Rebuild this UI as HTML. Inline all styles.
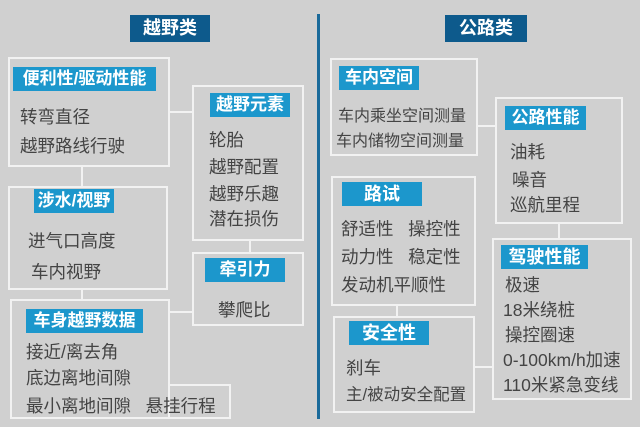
<!DOCTYPE html><html><head><meta charset="utf-8"><style>
body{margin:0;width:640px;height:427px;background:#d0d0d0;position:relative;overflow:hidden;font-family:"Liberation Sans","Noto Sans CJK SC",sans-serif;}
.b{position:absolute;border:2px solid #f2f2f2;box-sizing:border-box;}
.l{position:absolute;background:#1c97cc;color:#fff;font-weight:bold;font-size:17px;text-align:center;line-height:24px;}
.t{position:absolute;background:#0d5a8c;color:#fff;font-weight:bold;font-size:18px;text-align:center;line-height:27px;}
.x{position:absolute;color:#444;font-size:17.5px;line-height:20px;white-space:nowrap;}
.h{position:absolute;height:2px;background:#f2f2f2;}
.v{position:absolute;width:2px;background:#f2f2f2;}
</style></head><body>
<div style="position:absolute;left:317px;top:14px;width:3px;height:405px;background:#1a6a9a"></div>
<div class="t" style="left:130px;top:15px;width:80px;">越野类</div>
<div class="t" style="left:445px;top:15px;width:82px;">公路类</div>

<div class="b" style="left:8px;top:57px;width:162px;height:110px"></div>
<div class="l" style="left:13px;top:67px;width:143px;">便利性/驱动性能</div>
<div class="x" style="left:20px;top:107px">转弯直径</div>
<div class="x" style="left:20px;top:136px">越野路线行驶</div>

<div class="b" style="left:192px;top:85px;width:112px;height:156px"></div>
<div class="l" style="left:210px;top:93px;width:80px;">越野元素</div>
<div class="x" style="left:209px;top:130px">轮胎</div>
<div class="x" style="left:209px;top:157px">越野配置</div>
<div class="x" style="left:209px;top:184px">越野乐趣</div>
<div class="x" style="left:209px;top:209px">潜在损伤</div>
<div class="h" style="left:170px;top:111px;width:22px"></div>

<div class="b" style="left:8px;top:186px;width:160px;height:104px"></div>
<div class="l" style="left:34px;top:189px;width:80px;">涉水/视野</div>
<div class="x" style="left:28px;top:231px">进气口高度</div>
<div class="x" style="left:31px;top:262px">车内视野</div>
<div class="v" style="left:81px;top:167px;height:19px"></div>

<div class="b" style="left:10px;top:299px;width:160px;height:120px;border-bottom:none"></div>
<div class="b" style="left:10px;top:384px;width:221px;height:35px;border-top:none"></div>
<div class="b" style="left:168px;top:384px;width:63px;height:35px;border-left:none;border-bottom:none"></div>
<div class="l" style="left:26px;top:309px;width:117px;">车身越野数据</div>
<div class="x" style="left:26px;top:342px">接近/离去角</div>
<div class="x" style="left:26px;top:368px">底边离地间隙</div>
<div class="x" style="left:26px;top:396px">最小离地间隙&nbsp;&nbsp;&nbsp;悬挂行程</div>
<div class="v" style="left:81px;top:290px;height:9px"></div>

<div class="b" style="left:192px;top:252px;width:112px;height:74px"></div>
<div class="l" style="left:205px;top:258px;width:80px;">牵引力</div>
<div class="x" style="left:218px;top:300px">攀爬比</div>
<div class="v" style="left:249px;top:241px;height:11px"></div>
<div class="h" style="left:170px;top:311px;width:22px"></div>

<div class="b" style="left:330px;top:58px;width:148px;height:98px"></div>
<div class="l" style="left:339px;top:66px;width:80px;">车内空间</div>
<div class="x" style="left:338px;top:107px;font-size:16px">车内乘坐空间测量</div>
<div class="x" style="left:336px;top:132px;font-size:16px">车内储物空间测量</div>

<div class="b" style="left:495px;top:97px;width:128px;height:127px"></div>
<div class="l" style="left:505px;top:106px;width:81px;">公路性能</div>
<div class="x" style="left:510px;top:142px">油耗</div>
<div class="x" style="left:512px;top:170px">噪音</div>
<div class="x" style="left:510px;top:195px">巡航里程</div>
<div class="h" style="left:478px;top:125px;width:17px"></div>

<div class="b" style="left:331px;top:176px;width:145px;height:130px"></div>
<div class="l" style="left:342px;top:182px;width:80px;font-size:18px">路试</div>
<div class="x" style="left:341px;top:219px">舒适性&nbsp;&nbsp;&nbsp;操控性</div>
<div class="x" style="left:341px;top:247px">动力性&nbsp;&nbsp;&nbsp;稳定性</div>
<div class="x" style="left:341px;top:275px">发动机平顺性</div>

<div class="b" style="left:333px;top:316px;width:142px;height:97px"></div>
<div class="l" style="left:349px;top:321px;width:80px;font-size:18px">安全性</div>
<div class="x" style="left:346px;top:358px">刹车</div>
<div class="x" style="left:346px;top:385px;font-size:16.5px">主/被动安全配置</div>
<div class="v" style="left:396px;top:306px;height:10px"></div>

<div class="b" style="left:492px;top:238px;width:140px;height:162px"></div>
<div class="l" style="left:501px;top:245px;width:87px;font-size:18px">驾驶性能</div>
<div class="x" style="left:505px;top:275px">极速</div>
<div class="x" style="left:503px;top:300px">18米绕桩</div>
<div class="x" style="left:505px;top:325px">操控圈速</div>
<div class="x" style="left:503px;top:350px">0-100km/h加速</div>
<div class="x" style="left:503px;top:375px">110米紧急变线</div>
<div class="v" style="left:558px;top:224px;height:14px"></div>
<div class="h" style="left:475px;top:366px;width:17px"></div>
</body></html>
